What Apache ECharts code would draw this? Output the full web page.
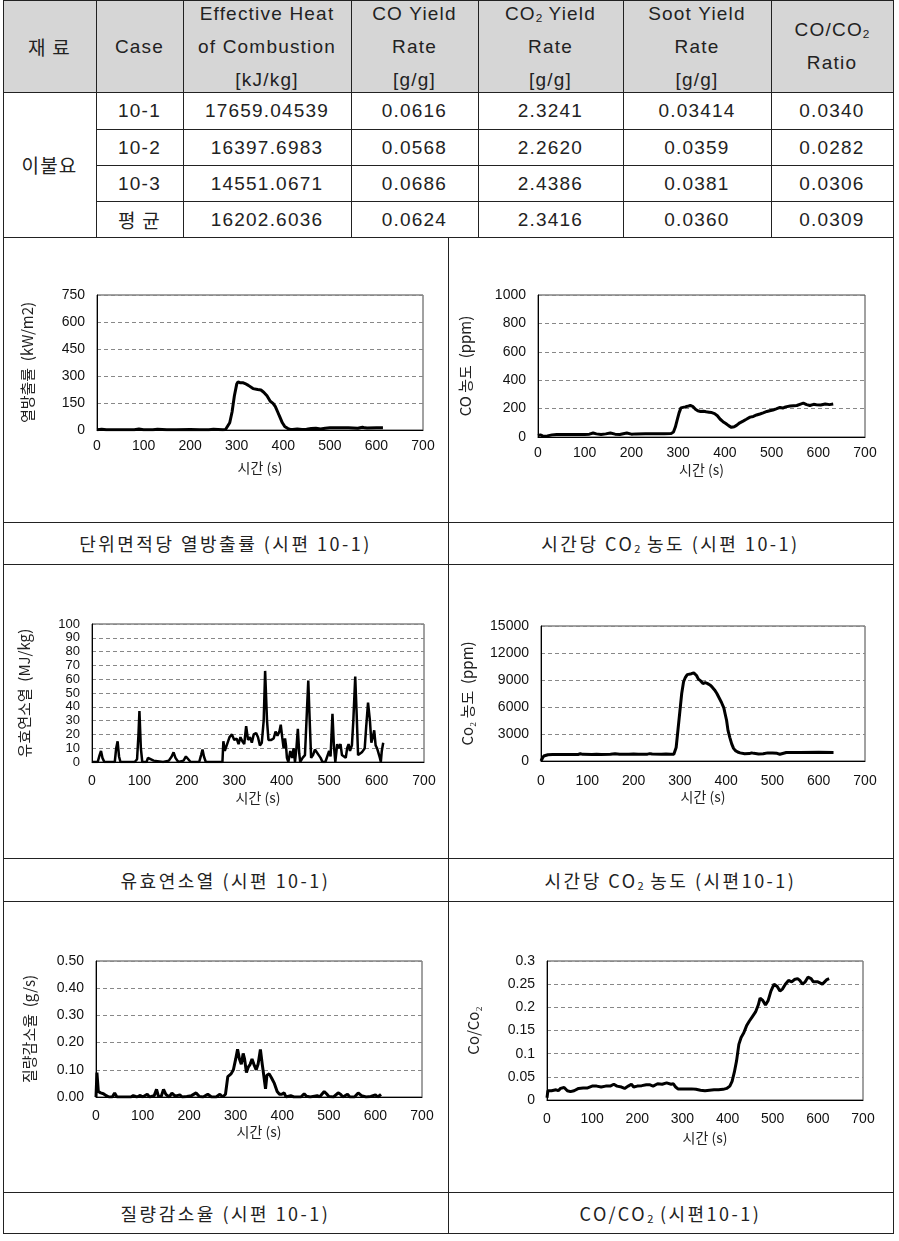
<!DOCTYPE html>
<html><head><meta charset="utf-8">
<script src="https://cdn.jsdelivr.net/npm/echarts@6/dist/echarts.min.js"></script>
<style>
html,body{margin:0;padding:0;background:#fff;}
#page{position:relative;width:899px;height:1241px;overflow:hidden;font-family:"Liberation Sans","Noto Sans CJK KR",sans-serif;color:#222;}
.cell{position:absolute;box-sizing:border-box;display:flex;align-items:center;justify-content:center;text-align:center;font-size:19px;letter-spacing:1.2px;line-height:33px;}
.ko{font-family:"Noto Sans CJK KR","Liberation Sans",sans-serif;}
.hl{position:absolute;height:1px;background:#222;}
.vl{position:absolute;width:1px;background:#222;}
.cap{position:absolute;display:flex;align-items:center;justify-content:center;font-family:"Noto Sans CJK KR","Liberation Sans",sans-serif;font-size:18px;letter-spacing:2.5px;color:#222;white-space:pre;}
sub{font-size:0.62em;vertical-align:-0.2em;line-height:0;letter-spacing:0;}
#chart{position:absolute;left:0;top:0;width:899px;height:1241px;z-index:2;}
</style></head>
<body><div id="page"><div id="chart"></div></div>
<script>
// ---------- table data ----------
const tableHeader = ['재 료','Case','Effective Heat<br>of Combustion<br>[kJ/kg]','CO Yield<br>Rate<br>[g/g]','CO<sub>2</sub> Yield<br>Rate<br>[g/g]','Soot Yield<br>Rate<br>[g/g]','CO/CO<sub>2</sub><br>Ratio'];
const materialName = '이불요';
const caseLabels = ['10-1','10-2','10-3','평 균'];
const ehcValues = ['17659.04539','16397.6983','14551.0671','16202.6036'];
const coYield = ['0.0616','0.0568','0.0686','0.0624'];
const co2Yield = ['2.3241','2.2620','2.4386','2.3416'];
const sootYield = ['0.03414','0.0359','0.0381','0.0360'];
const ratioValues = ['0.0340','0.0282','0.0306','0.0309'];
const captions = ['단위면적당 열방출률 (시편 10-1)','시간당 CO<sub>2</sub> 농도 (시편 10-1)','유효연소열 (시편 10-1)','시간당 CO<sub>2</sub> 농도 (시편10-1)','질량감소율 (시편 10-1)','CO/CO<sub>2</sub> (시편10-1)'];

// ---------- chart data: [time (s), value] ----------
const hrrData = [[0,2],[10,4],[20,1],[40,2],[60,1],[80,2],[90,5],[100,2],[120,1],[130,4],[150,2],[170,1],[200,3],[220,1],[240,2],[250,4],[270,2],[276,3],[280,10],[285,40],[290,100],[295,190],[300,255],[303,268],[308,262],[313,263],[318,258],[325,248],[335,230],[345,225],[352,222],[358,210],[365,190],[372,160],[378,148],[383,130],[388,100],[393,70],[398,40],[403,20],[410,8],[415,3],[420,3],[430,6],[440,3],[450,4],[460,8],[470,10],[480,6],[490,10],[500,12],[520,12],[540,12],[560,10],[570,15],[575,12],[580,11],[600,12],[614,12]];
const coData = [[0,10],[5,15],[10,8],[15,5],[20,8],[30,15],[40,18],[60,18],[80,18],[100,18],[110,20],[118,28],[125,22],[135,18],[145,22],[155,28],[165,20],[175,18],[185,25],[190,28],[200,20],[210,22],[230,23],[250,23],[270,23],[285,25],[290,35],[294,70],[298,120],[302,170],[306,205],[310,218],[315,212],[320,216],[326,222],[332,214],[337,195],[342,185],[348,180],[354,182],[360,178],[366,175],[372,172],[378,165],[384,150],[390,125],[396,108],[402,95],[408,80],[414,68],[420,72],[425,82],[432,100],[439,112],[446,125],[454,140],[461,145],[468,155],[475,162],[482,170],[490,180],[496,185],[503,190],[510,198],[518,208],[524,204],[530,212],[540,218],[554,222],[562,232],[568,239],[575,228],[582,222],[590,230],[596,227],[605,225],[615,232],[624,228],[632,232]];
const ehcData = [[0,0],[12,0],[16,5],[19,8],[22,3],[26,0],[48,0],[51,10],[54,15],[57,4],[60,0],[75,0],[90,0],[95,2],[98,20],[100,37],[103,10],[106,0],[115,0],[118,3],[122,2],[130,1],[150,0],[162,1],[168,4],[172,7],[176,3],[182,0],[193,1],[198,4],[202,3],[208,0],[226,0],[230,5],[233,9],[236,4],[240,0],[262,0],[275,0],[277,15],[280,8],[284,12],[290,18],[295,20],[300,16],[305,17],[309,13],[313,18],[317,15],[321,13],[325,26],[329,16],[333,18],[337,14],[341,20],[346,21],[350,18],[354,12],[358,14],[362,30],[365,66],[369,30],[372,16],[378,16],[383,17],[387,22],[391,19],[395,22],[398,27],[401,18],[404,10],[407,17],[409,12],[411,3],[414,0],[418,8],[422,3],[425,10],[428,0],[431,10],[434,24],[437,6],[439,0],[444,3],[449,5],[452,5],[456,59],[459,30],[462,3],[466,5],[470,9],[474,9],[478,5],[482,3],[486,0],[492,0],[496,4],[500,8],[503,4],[507,35],[510,12],[513,0],[517,13],[520,10],[524,13],[527,5],[531,4],[535,3],[538,10],[541,13],[544,8],[548,12],[551,30],[555,62],[558,35],[561,5],[565,5],[569,7],[572,6],[575,10],[578,25],[582,43],[586,30],[589,14],[592,18],[595,23],[598,12],[601,10],[604,10],[607,3],[609,0],[611,8],[614,14]];
const co2Data = [[0,0],[3,300],[6,550],[10,680],[15,700],[25,720],[40,720],[60,720],[80,730],[85,800],[90,740],[110,730],[120,760],[130,730],[150,740],[160,800],[170,740],[190,750],[200,780],[210,740],[230,760],[235,820],[240,770],[260,760],[270,780],[280,760],[287,760],[292,1500],[296,3500],[300,5500],[304,7500],[308,8800],[312,9300],[316,9600],[320,9600],[325,9700],[330,9800],[333,10000],[336,9500],[340,9100],[345,8900],[350,8600],[355,8700],[360,8600],[365,8450],[370,8200],[375,7900],[380,7500],[385,7000],[390,6500],[395,5900],[398,5200],[401,4500],[404,3400],[408,2600],[412,1900],[416,1400],[420,1150],[425,1000],[430,900],[440,800],[450,820],[455,900],[460,850],[470,780],[480,800],[490,900],[500,900],[510,850],[516,750],[520,900],[530,950],[560,950],[600,960],[632,950]];
const mlrData = [[0,0],[2,0.09],[5,0.02],[10,0.015],[16,0.012],[22,0.005],[28,0],[35,0],[40,0.015],[45,0],[60,0],[75,0],[80,0.005],[88,0],[95,0.006],[100,0],[110,0.01],[115,0],[125,0.005],[130,0.028],[134,0.003],[140,0.002],[145,0.028],[150,0.01],[157,0],[163,0.014],[170,0.003],[180,0.008],[185,0],[195,0.002],[205,0.005],[215,0.015],[222,0.002],[230,0],[240,0.01],[248,0],[258,0],[266,0.01],[272,0],[278,0.01],[283,0.075],[290,0.085],[295,0.1],[300,0.14],[304,0.175],[308,0.14],[312,0.12],[316,0.16],[319,0.14],[323,0.09],[327,0.11],[331,0.12],[335,0.14],[339,0.12],[344,0.1],[348,0.12],[353,0.175],[357,0.12],[361,0.07],[364,0.03],[367,0.08],[372,0.085],[377,0.07],[383,0.05],[389,0.02],[394,0.01],[399,0.01],[404,0.015],[408,0],[418,0.005],[425,0],[440,0],[447,0.012],[452,0.003],[460,0],[475,0.005],[480,0],[490,0.02],[495,0.012],[500,0.002],[510,0],[520,0.015],[525,0.01],[530,0],[540,0.01],[545,0],[555,0],[563,0.015],[570,0.005],[580,0],[590,0.002],[600,0.008],[605,0],[612,0.01]];
const ratioData = [[0,0.005],[2,0.02],[10,0.02],[20,0.022],[25,0.02],[30,0.025],[38,0.027],[45,0.02],[52,0.018],[60,0.02],[70,0.025],[80,0.026],[90,0.026],[100,0.03],[110,0.03],[120,0.028],[130,0.03],[140,0.03],[148,0.034],[155,0.03],[165,0.028],[172,0.025],[180,0.03],[187,0.034],[192,0.028],[200,0.03],[210,0.031],[220,0.033],[227,0.033],[235,0.03],[245,0.035],[255,0.034],[265,0.037],[275,0.034],[280,0.035],[285,0.028],[290,0.024],[300,0.024],[320,0.024],[330,0.023],[340,0.021],[350,0.02],[360,0.021],[370,0.022],[380,0.022],[390,0.023],[398,0.025],[405,0.03],[410,0.04],[415,0.06],[420,0.085],[425,0.12],[430,0.135],[436,0.145],[442,0.16],[448,0.17],[455,0.18],[462,0.19],[468,0.205],[472,0.22],[478,0.215],[484,0.205],[490,0.215],[496,0.235],[503,0.25],[510,0.245],[516,0.235],[522,0.24],[528,0.25],[535,0.258],[542,0.255],[548,0.26],[555,0.262],[560,0.258],[566,0.25],[572,0.255],[578,0.265],[585,0.262],[590,0.255],[600,0.255],[610,0.25],[615,0.255],[620,0.26],[625,0.262]];

const xName = '시간 (s)';
const yNames = ['열방출률  (kW/m2)','CO 농도  (ppm)','유효연소열  (MJ/kg)','Co₂ 농도  (ppm)','질량감소율  (g/s)','Co/Co₂'];
const yRanges = [[0,750,150],[0,1000,200],[0,100,10],[0,15000,3000],[0,0.5,0.1],[0,0.3,0.05]];

// ---------- build table (HTML) ----------
const page = document.getElementById('page');
const chartDiv = document.getElementById('chart');
function add(cls, style, html){const d=document.createElement('div');d.className=cls;Object.assign(d.style,style);if(html!==undefined)d.innerHTML='<span>'+html+'</span>';page.insertBefore(d,chartDiv);return d;}
const colX=[3,96,183,351,478,623,771,893];
const rowY=[0,92,129,165,201,237];
add('', {position:'absolute',left:'3px',top:'0px',width:'890px',height:'92px',background:'#d6d6d6'});
tableHeader.forEach((h,i)=>add('cell'+(i===0?' ko':''),{left:colX[i]+'px',top:'0px',width:(colX[i+1]-colX[i])+'px',height:'92px'},h));
add('cell ko',{left:'3px',top:'92px',width:'93px',height:'145px'},materialName);
const cols=[caseLabels,ehcValues,coYield,co2Yield,sootYield,ratioValues];
for(let r=0;r<4;r++){cols.forEach((c,j)=>{add('cell'+(j===0&&r===3?' ko':''),{left:colX[j+1]+'px',top:rowY[r+1]+'px',width:(colX[j+2]-colX[j+1])+'px',height:(rowY[r+2]-rowY[r+1])+'px'},c[r]);});}
function hl(y,x0,x1){add('hl',{left:x0+'px',top:y+'px',width:(x1-x0+1)+'px'});}
function vl(x,y0,y1){add('vl',{left:x+'px',top:y0+'px',height:(y1-y0+1)+'px'});}
hl(0,3,893);hl(92,3,893);[129,165,201].forEach(y=>hl(y,96,893));hl(237,3,893);
colX.forEach(x=>vl(x,0,237));
[522,564,858,901,1192,1233].forEach(y=>hl(y,3,893));
[3,448,893].forEach(x=>vl(x,237,1233));
const capRows=[[522,564],[858,901],[1192,1233]];
captions.forEach((c,i)=>{const r=capRows[Math.floor(i/2)];const left=i%2===0?3:448;add('cap',{left:left+'px',top:r[0]+'px',width:'445px',height:(r[1]-r[0])+'px'},c);});

// ---------- charts ----------
const grids=[
 {left:97,top:295,width:326,height:135},
 {left:538,top:295,width:327,height:142},
 {left:92,top:624,width:332,height:138},
 {left:541,top:626,width:324,height:135},
 {left:96,top:961,width:326,height:136},
 {left:547,top:961,width:316,height:139}];
const yNameGaps=[62,65,60,66,59,66];
const xNameGaps=[31,26,29,29,28,31];
const xLabelMargins=[9,9,12,13,12,12];
const datasets=[hrrData,coData,ehcData,co2Data,mlrData,ratioData];
const fmts=[v=>String(v),v=>String(v),v=>String(v),v=>String(v),v=>v.toFixed(2),v=>String(+v.toFixed(3))];
const option={animation:false,backgroundColor:'transparent',grid:[],xAxis:[],yAxis:[],series:[]};
grids.forEach((g,i)=>{
  option.grid.push(Object.assign({show:true,borderColor:'#444',borderWidth:1,backgroundColor:'transparent',containLabel:false},g));
  option.xAxis.push({type:'value',gridIndex:i,min:0,max:700,interval:100,
    name:xName,nameLocation:'middle',nameGap:xNameGaps[i],
    nameTextStyle:{fontFamily:'Noto Sans CJK KR',fontSize:14,color:'#222'},
    axisLine:{show:true,lineStyle:{color:'#000',width:1}},axisTick:{show:false},splitLine:{show:false},
    axisLabel:{margin:xLabelMargins[i],fontFamily:'Liberation Sans',fontSize:14,color:'#111',showMinLabel:true,showMaxLabel:true,hideOverlap:false}});
  option.yAxis.push({type:'value',gridIndex:i,min:yRanges[i][0],max:yRanges[i][1],interval:yRanges[i][2],
    name:yNames[i],nameLocation:'middle',nameGap:yNameGaps[i],nameRotate:90,
    nameTextStyle:{fontFamily:'Noto Sans CJK KR',fontSize:15,color:'#222'},
    axisLine:{show:true,lineStyle:{color:'#000',width:1}},axisTick:{show:false},
    splitLine:{show:true,lineStyle:{color:'#888',type:[4,3],width:1}},
    axisLabel:{margin:12,fontFamily:'Liberation Sans',fontSize:i===2?13:14,lineHeight:i===2?12:16,color:'#111',formatter:fmts[i],showMinLabel:true,showMaxLabel:true,hideOverlap:false}});
  option.series.push({type:'line',xAxisIndex:i,yAxisIndex:i,data:datasets[i],showSymbol:false,symbol:'none',
    lineStyle:{color:'#000',width:i===2?2.5:3},itemStyle:{color:'#000'}});
});
const chart=echarts.init(chartDiv,null,{renderer:'canvas'});
chart.setOption(option);
</script>
</body></html>
